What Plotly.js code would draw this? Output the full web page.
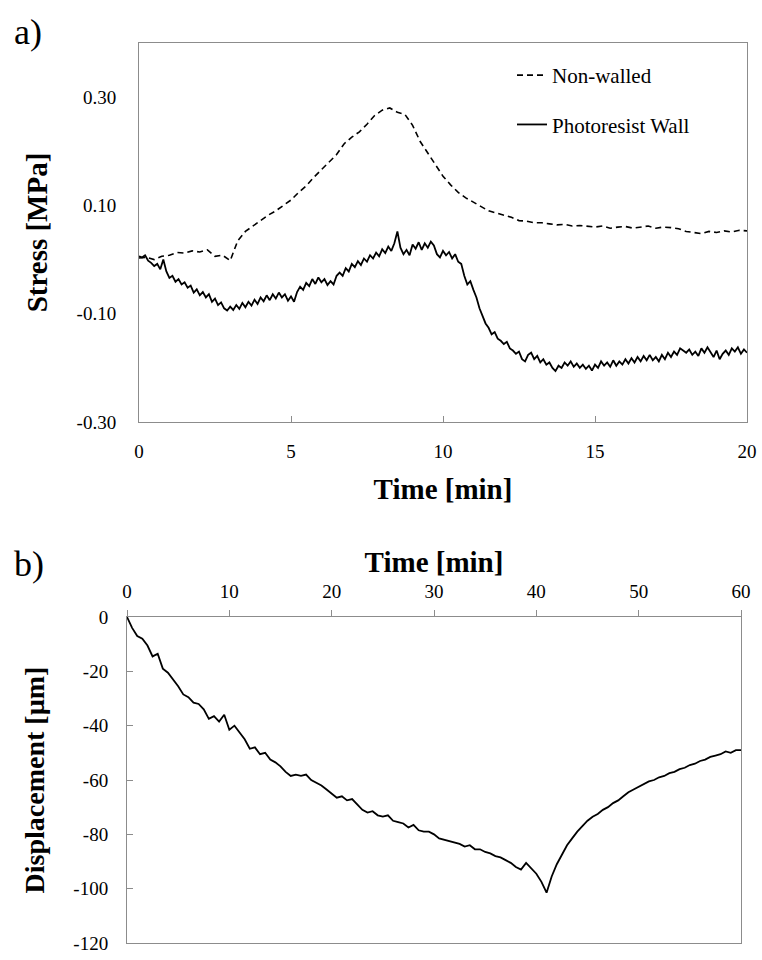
<!DOCTYPE html>
<html>
<head>
<meta charset="utf-8">
<script src="https://cdn.plot.ly/plotly-3.0.1.min.js"></script>
<style>html,body{margin:0;padding:0;background:#fff}#chart{width:762px;height:960px}</style>
</head>
<body>
<div id="chart"></div>
<script>
// ---------- Panel a) : Stress vs time ----------
const stressStep = 0.1; // min, sampling of the photoresist-wall record
const wallStress = [
  0.006, 0.004, 0.008, -0.002, -0.006, -0.012, -0.008, -0.018, 0.000, -0.022,
  -0.034, -0.030, -0.041, -0.036, -0.046, -0.042, -0.052, -0.048, -0.061, -0.055,
  -0.066, -0.060, -0.070, -0.064, -0.078, -0.072, -0.084, -0.079, -0.090, -0.094,
  -0.087, -0.093, -0.084, -0.091, -0.080, -0.088, -0.078, -0.085, -0.074, -0.082,
  -0.070, -0.077, -0.066, -0.075, -0.064, -0.072, -0.061, -0.070, -0.064, -0.076,
  -0.068, -0.078, -0.060, -0.050, -0.056, -0.043, -0.049, -0.036, -0.045, -0.033,
  -0.042, -0.036, -0.047, -0.040, -0.046, -0.030, -0.024, -0.030, -0.016, -0.022,
  -0.008, -0.014, -0.003, -0.010, 0.002, -0.004, 0.008, 0.002, 0.013, 0.006,
  0.019, 0.012, 0.024, 0.016, 0.030, 0.052, 0.022, 0.010, 0.018, 0.008,
  0.028, 0.020, 0.032, 0.018, 0.030, 0.022, 0.033, 0.026, 0.010, 0.004,
  0.016, 0.008, 0.014, 0.002, 0.010, -0.004, -0.008, -0.030, -0.046, -0.040,
  -0.056, -0.070, -0.090, -0.104, -0.118, -0.126, -0.138, -0.134, -0.146, -0.150,
  -0.156, -0.152, -0.164, -0.168, -0.174, -0.170, -0.184, -0.188, -0.176, -0.172,
  -0.184, -0.178, -0.190, -0.184, -0.194, -0.190, -0.200, -0.206, -0.196, -0.200,
  -0.190, -0.196, -0.188, -0.198, -0.192, -0.200, -0.194, -0.202, -0.196, -0.205,
  -0.194, -0.200, -0.188, -0.196, -0.190, -0.198, -0.186, -0.196, -0.188, -0.194,
  -0.184, -0.192, -0.182, -0.190, -0.180, -0.188, -0.178, -0.186, -0.176, -0.186,
  -0.180, -0.188, -0.176, -0.184, -0.172, -0.180, -0.170, -0.176, -0.164, -0.168,
  -0.172, -0.166, -0.176, -0.170, -0.178, -0.164, -0.172, -0.162, -0.170, -0.180,
  -0.168, -0.184, -0.174, -0.168, -0.176, -0.164, -0.170, -0.162, -0.174, -0.166,
  -0.172
];
const openStep = 0.25; // min, sampling of the non-walled record
const openStress = [
  0.003, 0.004, 0.000, 0.006, 0.008, 0.013, 0.012, 0.016, 0.014, 0.018,
  0.006, 0.008, -0.002, 0.035, 0.052, 0.062, 0.072, 0.082, 0.090, 0.100,
  0.110, 0.124, 0.136, 0.152, 0.166, 0.180, 0.194, 0.214, 0.226, 0.236,
  0.250, 0.266, 0.276, 0.280, 0.272, 0.268, 0.248, 0.218, 0.196, 0.176,
  0.154, 0.138, 0.124, 0.114, 0.106, 0.098, 0.090, 0.086, 0.082, 0.078,
  0.072, 0.071, 0.068, 0.068, 0.066, 0.064, 0.065, 0.062, 0.063, 0.061,
  0.060, 0.062, 0.058, 0.060, 0.061, 0.058, 0.060, 0.062, 0.058, 0.060,
  0.059, 0.057, 0.052, 0.050, 0.048, 0.052, 0.050, 0.053, 0.051, 0.054,
  0.053
];
const stressTicks = [-0.30, -0.10, 0.10, 0.30];
const timeTicksA = [0, 5, 10, 15, 20];

// ---------- Panel b) : Displacement vs time ----------
const dispStep = 0.5; // min
const displacement = [
  0, -4.0, -7.0, -8.0, -10.5, -14.5, -13.5, -19.0, -20.5, -23.0,
  -25.5, -28.5, -29.5, -31.5, -32.0, -34.0, -37.5, -36.5, -38.5, -36.0,
  -41.5, -40.0, -42.5, -45.0, -48.5, -48.0, -50.5, -50.0, -52.5, -53.5,
  -55.0, -57.0, -58.5, -58.0, -58.5, -58.0, -60.0, -61.0, -62.0, -63.5,
  -65.0, -66.5, -66.0, -67.5, -67.0, -69.0, -71.0, -72.0, -71.5, -73.0,
  -73.5, -73.0, -75.0, -75.5, -76.0, -77.5, -76.5, -78.5, -79.0, -79.0,
  -80.0, -81.5, -82.0, -82.5, -83.0, -83.5, -84.5, -84.0, -85.5, -85.5,
  -86.5, -87.0, -88.0, -88.5, -89.5, -90.5, -92.0, -93.0, -90.5, -92.5,
  -94.5, -97.5, -101.5, -95.5, -91.0, -87.5, -84.0, -81.5, -79.0, -77.0,
  -75.0, -73.5, -72.5, -71.0, -70.0, -68.5, -67.5, -66.0, -64.5, -63.5,
  -62.5, -61.5, -60.5, -60.0, -59.0, -58.5, -57.5, -57.0, -56.0, -55.5,
  -54.5, -54.0, -53.0, -52.5, -51.5, -51.0, -50.5, -49.5, -50.0, -49.0,
  -49.0
];
const dispTicks = [0, -20, -40, -60, -80, -100, -120];
const timeTicksB = [0, 10, 20, 30, 40, 50, 60];

const grid = (n, step) => Array.from({length: n}, (_, i) => +(i * step).toFixed(3));

const SERIF = 'Liberation Serif, Times New Roman, serif';
const AX = '#8c8c8c';
const W = 762, H = 960;

const traces = [
  {
    x: grid(openStress.length, openStep), y: openStress,
    type: 'scatter', mode: 'lines', name: 'Non-walled', legendgroup: 'a',
    line: {color: '#000', width: 1.6, dash: '6px,4px'},
    xaxis: 'x', yaxis: 'y'
  },
  {
    x: grid(wallStress.length, stressStep), y: wallStress,
    type: 'scatter', mode: 'lines', name: 'Photoresist Wall', legendgroup: 'b',
    line: {color: '#000', width: 1.8},
    xaxis: 'x', yaxis: 'y'
  },
  {
    x: grid(displacement.length, dispStep), y: displacement,
    type: 'scatter', mode: 'lines', name: 'Displacement', showlegend: false,
    line: {color: '#000', width: 1.8},
    xaxis: 'x2', yaxis: 'y2'
  }
];

const tickFont = {family: SERIF, size: 19, color: '#000'};
const titleFont = {family: SERIF, size: 29, color: '#000', weight: 'bold'};

const layout = {
  width: W, height: H,
  margin: {l: 0, r: 0, t: 0, b: 0},
  paper_bgcolor: '#fff', plot_bgcolor: '#fff',
  font: {family: SERIF, color: '#000'},
  showlegend: true,
  legend: {
    x: 512 / W, y: 1 - 55 / H, xanchor: 'left', yanchor: 'top',
    font: {family: SERIF, size: 21, color: '#000'},
    bgcolor: 'rgba(0,0,0,0)', tracegroupgap: 19, traceorder: 'grouped'
  },
  xaxis: {
    domain: [139 / W, 747 / W], anchor: 'y',
    range: [0, 20], tickvals: timeTicksA, ticktext: timeTicksA.map(String),
    showgrid: false, zeroline: false,
    showline: true, mirror: true, linecolor: AX, linewidth: 1,
    ticks: 'inside', ticklen: 6, tickcolor: AX, tickwidth: 1,
    tickfont: tickFont, ticklabelstandoff: 12,
    title: {text: 'Time [min]', font: titleFont, standoff: 17}
  },
  yaxis: {
    domain: [1 - 422 / H, 1 - 43 / H], anchor: 'x',
    range: [-0.30, 0.40], tickvals: stressTicks, ticktext: stressTicks.map(v => v.toFixed(2)),
    showgrid: false, zeroline: false,
    showline: true, mirror: true, linecolor: AX, linewidth: 1,
    ticks: '', tickfont: tickFont, ticklabelstandoff: 18,
    title: {text: 'Stress [MPa]', font: titleFont, standoff: 20}
  },
  xaxis2: {
    domain: [127 / W, 741 / W], anchor: 'y2', side: 'top',
    range: [0, 60], tickvals: timeTicksB, ticktext: timeTicksB.map(String),
    showgrid: false, zeroline: false,
    showline: true, mirror: true, linecolor: AX, linewidth: 1,
    ticks: 'outside', ticklen: 6, tickcolor: AX, tickwidth: 1,
    tickfont: tickFont, ticklabelstandoff: 4,
    title: {text: 'Time [min]', font: titleFont, standoff: 0}
  },
  yaxis2: {
    domain: [1 - 943 / H, 1 - 617 / H], anchor: 'x2',
    range: [-120, 0], tickvals: dispTicks, ticktext: dispTicks.map(String),
    showgrid: false, zeroline: false,
    showline: true, mirror: true, linecolor: AX, linewidth: 1,
    ticks: 'inside', ticklen: 6, tickcolor: AX, tickwidth: 1,
    tickfont: tickFont, ticklabelstandoff: 14,
    title: {text: 'Displacement [µm]', font: Object.assign({}, titleFont, {size: 28}), standoff: 20}
  },
  annotations: [
    {text: 'a)', x: 28 / W, y: 1 - 32 / H, xref: 'paper', yref: 'paper',
     xanchor: 'center', yanchor: 'middle', showarrow: false,
     font: {family: SERIF, size: 36, color: '#000'}},
    {text: 'b)', x: 29 / W, y: 1 - 564 / H, xref: 'paper', yref: 'paper',
     xanchor: 'center', yanchor: 'middle', showarrow: false,
     font: {family: SERIF, size: 36, color: '#000'}}
  ]
};

Plotly.newPlot('chart', traces, layout, {staticPlot: true, displayModeBar: false});
</script>
</body>
</html>
